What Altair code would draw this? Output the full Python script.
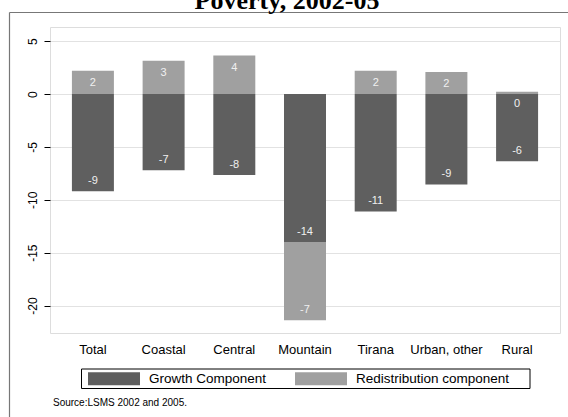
import altair as alt
import pandas as pd

# Poverty change decomposition by region (percentage points)
regions = ["Total", "Coastal", "Central", "Mountain", "Tirana", "Urban, other", "Rural"]
growth = [-9.2, -7.2, -7.65, -14.0, -11.1, -8.55, -6.35]
redistribution = [2.2, 3.15, 3.65, -7.4, 2.2, 2.1, 0.22]
components = ["Growth Component", "Redistribution component"]
component_colors = ["#5f5f5f", "#a0a0a0"]
y_ticks = [-20, -15, -10, -5, 0, 5]
title_text = "Poverty, 2002-05"
source_text = "Source:LSMS 2002 and 2005."

rows = []
for name, g, r in zip(regions, growth, redistribution):
    rows.append({"region": name, "component": components[0], "value": g, "order": 0})
    rows.append({"region": name, "component": components[1], "value": r, "order": 1})
df = pd.DataFrame(rows)

SANS = "Liberation Sans"
W, H = 510, 306

x_enc = alt.X(
    "region:N",
    sort=regions,
    scale=alt.Scale(paddingInner=0.406, paddingOuter=0.31),
    axis=alt.Axis(title=None, labelAngle=0, ticks=False, tickSize=0, domain=False,
                  labelPadding=10, labelFontSize=13, labelFont=SANS, labelColor="black"),
)
y_scale = alt.Scale(domain=[-22.6, 6.35], nice=False, zero=False)

base = alt.Chart(df)

# wide, flat legend swatches: the custom path spans 52 x 13 px at this symbol size,
# while legend rows are laid out as 52 px tall squares
bars = base.mark_bar(stroke=None).encode(
    x=x_enc,
    y=alt.Y(
        "value:Q",
        stack="zero",
        scale=y_scale,
        axis=alt.Axis(title=None, values=y_ticks, labelAngle=-90, labelAlign="center",
                      labelBaseline="bottom", tickSize=6, tickColor="black", tickWidth=1,
                      labelPadding=5, labelFontSize=12, labelFont=SANS, labelColor="black",
                      domain=False, grid=True, gridColor="#e2e2e2", gridWidth=1.2),
    ),
    color=alt.Color(
        "component:N",
        scale=alt.Scale(domain=components, range=component_colors),
        legend=alt.Legend(
            title=None, orient="none", legendX=34, legendY=321.5, direction="horizontal",
            symbolType="M-1,-0.25H1V0.25H-1Z", symbolSize=2704, symbolStrokeWidth=0,
            symbolOpacity=1, labelFontSize=13.5, labelFont=SANS, labelColor="black",
            labelOffset=9, columnPadding=28, padding=4,
        ),
    ),
    order=alt.Order("order:Q"),
)

# value labels sit just inside the outer end of each stacked segment
stacked = base.transform_stack(
    stack="value", groupby=["region"], as_=["v0", "v1"],
    sort=[alt.SortField("order", order="ascending")],
)
label_style = dict(fontSize=11, font=SANS, color="#f0f0f0", baseline="middle", align="center")
labels_pos = stacked.transform_filter("datum.value >= 0").mark_text(dy=12, **label_style).encode(
    x=alt.X("region:N", sort=regions),
    y=alt.Y("v1:Q", scale=y_scale),
    text=alt.Text("value:Q", format=".0f"),
)
labels_neg = stacked.transform_filter("datum.value < 0").mark_text(dy=-10, **label_style).encode(
    x=alt.X("region:N", sort=regions),
    y=alt.Y("v1:Q", scale=y_scale),
    text=alt.Text("value:Q", format=".0f"),
)

one = alt.Chart(pd.DataFrame({"k": [0]}))
frame_left = one.mark_rule(color="#777777", strokeWidth=1.2).encode(
    x=alt.value(-40.5), y=alt.value(-14.5), y2=alt.value(395)
)
frame_top = one.mark_rule(color="#777777", strokeWidth=1.2).encode(
    x=alt.value(-40.5), x2=alt.value(525), y=alt.value(-14.5)
)
legend_box = one.mark_rect(fill="white", stroke="black", strokeWidth=1).encode(
    x=alt.value(31.5), x2=alt.value(480), y=alt.value(342), y2=alt.value(361.5)
)
title = one.mark_text(align="center", baseline="alphabetic", fontSize=26,
                      font="Liberation Serif", fontWeight="bold", color="black").encode(
    x=alt.value(237), y=alt.value(-18), text=alt.value(title_text)
)
source = one.mark_text(align="left", baseline="middle", fontSize=10, font=SANS,
                       color="black").encode(
    x=alt.value(3), y=alt.value(376), text=alt.value(source_text)
)

chart = alt.layer(
    frame_left, frame_top, legend_box, bars, labels_pos, labels_neg, title, source
).properties(
    width=W,
    height=H,
    autosize=alt.AutoSizeParams(type="none"),
    padding={"left": 50, "top": 27, "right": 8, "bottom": 84},
).configure_view(
    stroke="black", strokeWidth=1.3
).configure(
    background="white",
    locale={"number": {"decimal": ".", "thousands": ",", "grouping": [3],
                       "currency": ["$", ""], "minus": "-"}},
)

chart.save("out.html", embed_options={"renderer": "svg", "actions": False})
